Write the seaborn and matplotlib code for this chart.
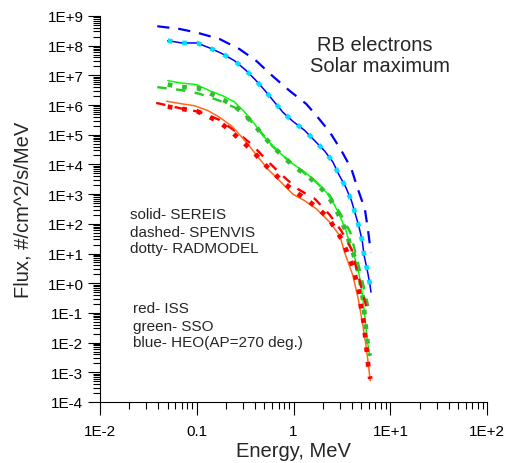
import numpy as np
import pandas as pd
import matplotlib
matplotlib.use("Agg")
import matplotlib.pyplot as plt
import seaborn as sns
from matplotlib.ticker import LogLocator, NullFormatter

# RB electron spectra, solar maximum
heo_sereis_e = [0.05, 0.07, 0.1, 0.135, 0.18, 0.245, 0.32, 0.40, 0.50, 0.62, 0.775, 0.985,
                1.30, 1.65, 2.1, 2.55, 2.95, 3.46, 3.96, 4.34, 4.74, 5.13, 5.35, 5.75, 6.13, 6.3]
heo_sereis_f = [1.47e8, 1.23e8, 1.23e8, 8.4e7, 5.5e7, 3.1e7, 1.5e7, 7.2e6, 3.2e6, 1.37e6, 5.7e5, 2.8e5,
                1.4e5, 6.3e4, 2.8e4, 1.19e4, 4.4e3, 1.7e3, 600, 215, 79, 25, 8.5, 2.9, 0.95, 0.5]
heo_rad_e = heo_sereis_e
heo_rad_f = heo_sereis_f
heo_spen_e = [0.039, 0.066, 0.098, 0.171, 0.275, 0.41, 0.605, 0.91, 1.35, 1.72, 2.36, 3.12,
              3.96, 4.6, 5.44, 5.85, 6.28]
heo_spen_f = [4.5e8, 3.65e8, 2.8e8, 1.68e8, 7.7e7, 3.1e7, 9.5e6, 3.0e6, 1.09e6, 4.4e5, 1.24e5, 2.9e4,
              7.0e3, 1.5e3, 318, 67, 11]

sso_sereis_e = [0.05, 0.069, 0.098, 0.135, 0.184, 0.245, 0.31, 0.395, 0.48, 0.605, 0.77, 0.98,
                1.3, 1.67, 2.2, 2.65, 3.03, 3.46, 3.8, 4.26, 4.66, 5.0, 5.2, 5.4, 5.6, 5.8, 6.1]
sso_sereis_f = [6.6e6, 5.5e6, 4.9e6, 3.05e6, 2.07e6, 1.27e6, 5.9e5, 2.3e5, 9.3e4, 4.3e4, 2.0e4, 1.04e4,
                5.6e3, 2.8e3, 1.1e3, 430, 170, 62, 21, 7.7, 2.6, 0.81, 0.3, 0.093, 0.029, 0.0106, 0.0036]
sso_rad_e = [0.05, 0.07, 0.1, 0.135, 0.18, 0.245, 0.32, 0.40, 0.50, 0.62, 0.775, 0.985,
             1.3, 1.67, 2.2, 2.65, 3.0, 3.46, 3.8, 4.26, 4.63, 5.0, 5.2, 5.4, 5.6, 5.8, 6.1]
sso_rad_f = [4.9e6, 4.0e6, 3.8e6, 2.55e6, 1.6e6, 9.3e5, 4.4e5, 2.0e5, 8.2e4, 3.8e4, 1.9e4, 9.1e3,
             4.8e3, 2.5e3, 1.0e3, 390, 164, 58, 21, 7.5, 2.65, 0.83, 0.30, 0.092, 0.029, 0.0106, 0.0036]
sso_spen_e = [0.039, 0.068, 0.106, 0.171, 0.275, 0.41, 0.6, 0.9, 1.35, 1.72, 2.36, 3.12, 3.85, 4.8, 5.9]
sso_spen_f = [4.0e6, 3.2e6, 2.4e6, 1.4e6, 7.0e5, 1.9e5, 4.2e4, 1.3e4, 4.6e3, 2.5e3, 900, 189, 52, 3.0, 0.17]

iss_sereis_e = [0.0485, 0.071, 0.094, 0.13, 0.171, 0.227, 0.286, 0.35, 0.43, 0.54, 0.66, 0.98,
                1.3, 1.72, 2.36, 3.0, 3.36, 4.1, 4.65, 5.2, 5.6, 6.2]
iss_sereis_f = [1.34e6, 1.09e6, 9.5e5, 6.5e5, 3.9e5, 2.0e5, 8.9e4, 4.1e4, 1.75e4, 7.0e3, 3.7e3, 1.0e3,
                600, 318, 113, 40, 11, 1.8, 0.30, 0.037, 0.008, 0.00052]
iss_rad_e = [0.05, 0.07, 0.1, 0.133, 0.178, 0.235, 0.30, 0.38, 0.475, 0.61, 0.775, 1.0,
             1.34, 1.72, 2.25, 2.7, 3.2, 3.62, 4.1, 4.8, 5.0, 5.3, 5.5, 5.7, 5.9, 6.2]
iss_rad_f = [8.8e5, 7.4e5, 6.2e5, 4.1e5, 2.44e5, 1.15e5, 5.6e4, 2.8e4, 1.19e4, 5.5e3, 2.6e3, 1.28e3,
             690, 360, 167, 67, 27, 9.7, 3.5, 0.44, 0.136, 0.048, 0.0155, 0.0053, 0.0017, 0.0006]
iss_spen_e = [0.038, 0.071, 0.106, 0.17, 0.27, 0.375, 0.53, 0.76, 1.1, 1.66, 2.36, 3.1, 3.96, 5.65]
iss_spen_f = [1.18e6, 7.5e5, 5.9e5, 3.2e5, 1.1e5, 4.5e4, 1.36e4, 4.3e3, 1.5e3, 690, 200, 59, 14, 0.16]

x_ticks = [1e-2, 1e-1, 1, 1e1, 1e2]
x_labels = ["1E-2", "0.1", "1", "1E+1", "1E+2"]
y_ticks = [10.0 ** k for k in range(-4, 10)]
y_labels = ["1E-4", "1E-3", "1E-2", "1E-1", "1E+0", "1E+1", "1E+2",
            "1E+3", "1E+4", "1E+5", "1E+6", "1E+7", "1E+8", "1E+9"]

sns.set_style("ticks")
plt.rcParams['font.family'] = ['Liberation Sans', 'DejaVu Sans']

fig = plt.figure(figsize=(5.08, 4.64), dpi=100)
ax = fig.add_axes([0.197, 0.1315, 0.762, 0.832])

solid = dict(linestyle='-', linewidth=1.1)
dashed_long = dict(linestyle=(0, (5.5, 4)), linewidth=1.6)
dashed = dict(linestyle=(0, (4, 4)), linewidth=1.7)
dotty = dict(linestyle=(0, (1.0, 2.1)), linewidth=3.4, dash_capstyle='butt')

curves = [
    (heo_spen_e, heo_spen_f, '#0000ff', dashed_long),
    (heo_sereis_e, heo_sereis_f, '#0000ff', solid),
    (heo_rad_e, heo_rad_f, '#00e1ff', dotty),
    (sso_spen_e, sso_spen_f, '#22cc22', dashed),
    (sso_sereis_e, sso_sereis_f, '#00ff00', solid),
    (sso_rad_e, sso_rad_f, '#33bb33', dotty),
    (iss_spen_e, iss_spen_f, '#ff0000', dashed),
    (iss_sereis_e, iss_sereis_f, '#ff6a1a', solid),
    (iss_rad_e, iss_rad_f, '#ff0000', dotty),
]
for e, f, c, st in curves:
    df = pd.DataFrame({'energy': e, 'flux': f})
    sns.lineplot(data=df, x='energy', y='flux', color=c, sort=False,
                 estimator=None, ax=ax, **st)

ax.set_xscale('log')
ax.set_yscale('log')
ax.set_xlim(1e-2, 1e2)
ax.set_ylim(1e-4, 1e9)
ax.set_xticks(x_ticks)
ax.set_xticklabels(x_labels)
ax.set_yticks(y_ticks)
ax.set_yticklabels(y_labels)
ax.xaxis.set_minor_locator(LogLocator(base=10, subs=np.arange(2, 10), numticks=20))
ax.yaxis.set_minor_locator(LogLocator(base=10, subs=np.arange(2, 10), numticks=40))
ax.xaxis.set_minor_formatter(NullFormatter())
ax.yaxis.set_minor_formatter(NullFormatter())
ax.tick_params(which='major', direction='out', length=9, width=0.8, color='black',
               labelsize=11, labelcolor='black')
ax.tick_params(which='minor', direction='out', length=5, width=0.8, color='black')
ax.tick_params(axis='x', which='major', pad=7)
ax.tick_params(axis='y', which='major', pad=3)
sns.despine(ax=ax)
for s in ['left', 'bottom']:
    ax.spines[s].set_color('black')
    ax.spines[s].set_linewidth(0.8)

ax.set_xlabel("Energy, MeV", fontsize=14.5, labelpad=2)
ax.set_ylabel("Flux, #/cm^2/s/MeV", fontsize=14.5, labelpad=11)

ax.text(0.561, 0.913, "RB electrons", transform=ax.transAxes, fontsize=14.5)
ax.text(0.543, 0.857, "Solar maximum", transform=ax.transAxes, fontsize=14.5)
for y, s in [(0.477, "solid- SEREIS"), (0.431, "dashed- SPENVIS"), (0.388, "dotty- RADMODEL")]:
    ax.text(0.0775, y, s, transform=ax.transAxes, fontsize=11)
for y, s in [(0.232, "red- ISS"), (0.187, "green- SSO"), (0.146, "blue- HEO(AP=270 deg.)")]:
    ax.text(0.0853, y, s, transform=ax.transAxes, fontsize=11)

fig.savefig("out.png", dpi=100)
